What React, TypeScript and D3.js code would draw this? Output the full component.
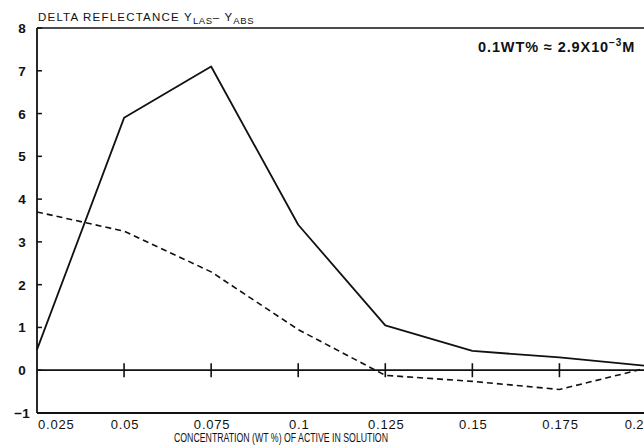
import React from "react";
import * as d3 from "d3";

const concentrations = [0.025, 0.05, 0.075, 0.1, 0.125, 0.15, 0.175, 0.2];
const solidSeries = [0.48, 5.9, 7.1, 3.4, 1.05, 0.45, 0.3, 0.1];
const dashedSeries = [3.7, 3.25, 2.3, 0.95, -0.12, -0.26, -0.45, 0.05];
const xTickValues = [0.025, 0.05, 0.075, 0.1, 0.125, 0.15, 0.175, 0.2];
const xTickLabels = ["0.025", "0.05", "0.075", "0.1", "0.125", "0.15", "0.175", "0.2"];
const yTickValues = [-1, 0, 1, 2, 3, 4, 5, 6, 7, 8];
const yTickLabels = ["\u22121", "0", "1", "2", "3", "4", "5", "6", "7", "8"];

const W = 644;
const H = 447;
const FONT = "'Liberation Sans', Arial, sans-serif";

export default function App() {
  const x = d3.scaleLinear().domain([0.025, 0.2]).range([37, 646.5]);
  const y = d3.scaleLinear().domain([-1, 8]).range([413, 28]);

  const line = d3
    .line<number>()
    .x((_, i) => x(concentrations[i]))
    .y((d) => y(d));

  const y0 = y(0);

  return (
    <div style={{ position: "absolute", left: 0, top: 0 }}>
      <svg width={W} height={H} style={{ display: "block", background: "#fff" }}>
        {/* title */}
        <text x={38} y={21} fontFamily={FONT} fontSize={11.5} fill="#111" letterSpacing={1.2}>
          DELTA REFLECTANCE Y
          <tspan fontSize={9.5} dy={3} letterSpacing={0.6}>LAS</tspan>
          <tspan dy={-3}>{"\u2013 Y"}</tspan>
          <tspan fontSize={9.5} dy={3} letterSpacing={0.6}>ABS</tspan>
        </text>
        {/* annotation */}
        <text x={478} y={52} fontFamily={FONT} fontSize={14.5} fontWeight="bold" fill="#111" letterSpacing={0.9}>
          0.1WT% {"\u2248"} 2.9X10
          <tspan fontSize={10} dy={-6}>−3</tspan>
          <tspan dy={6}>M</tspan>
        </text>

        {/* frame */}
        <line x1={x(0.025)} x2={W} y1={y(8)} y2={y(8)} stroke="#111" strokeWidth={1.6} />
        <line x1={x(0.025)} x2={W} y1={y(-1)} y2={y(-1)} stroke="#111" strokeWidth={1.8} />
        <line x1={x(0.025)} x2={x(0.025)} y1={y(8)} y2={y(-1)} stroke="#111" strokeWidth={1.8} />

        {/* y ticks */}
        {yTickValues.map((v, i) => (
          <g key={"y" + v}>
            <line x1={x(0.025)} x2={x(0.025) + 5} y1={y(v)} y2={y(v)} stroke="#111" strokeWidth={1.5} />
            <text
              x={22}
              y={y(v) + 5}
              textAnchor="middle"
              fontFamily={FONT}
              fontSize={13.5}
              fontWeight="bold"
              fill="#111"
            >
              {yTickLabels[i]}
            </text>
          </g>
        ))}

        {/* zero line with cross ticks */}
        <line x1={x(0.025)} x2={W} y1={y0} y2={y0} stroke="#111" strokeWidth={1.8} />
        {xTickValues.slice(1, -1).map((v) => (
          <line key={"xt" + v} x1={x(v)} x2={x(v)} y1={y0 - 7} y2={y0 + 7} stroke="#111" strokeWidth={1.6} />
        ))}

        {/* x tick labels */}
        {xTickValues.map((v, i) => {
          const first = i === 0;
          const last = i === xTickValues.length - 1;
          return (
            <text
              key={"xl" + v}
              x={first ? x(v) + 1 : last ? x(v) - 2.5 : x(v) + 1}
              y={429}
              textAnchor={first ? "start" : last ? "end" : "middle"}
              fontFamily={FONT}
              fontSize={13}
              letterSpacing={last ? 0.4 : 0.8}
              fill="#111"
            >
              {xTickLabels[i]}
            </text>
          );
        })}
        <text
          x={174}
          y={442}
          fontFamily={FONT}
          fontSize={12.5}
          fill="#111"
          textLength={214}
          lengthAdjust="spacingAndGlyphs"
        >
          CONCENTRATION (WT %) OF ACTIVE IN SOLUTION
        </text>

        {/* series */}
        <path d={line(solidSeries) || ""} fill="none" stroke="#111" strokeWidth={1.8} strokeLinejoin="round" />
        <path
          d={line(dashedSeries) || ""}
          fill="none"
          stroke="#111"
          strokeWidth={1.6}
          strokeDasharray="6,4"
        />
      </svg>
    </div>
  );
}
